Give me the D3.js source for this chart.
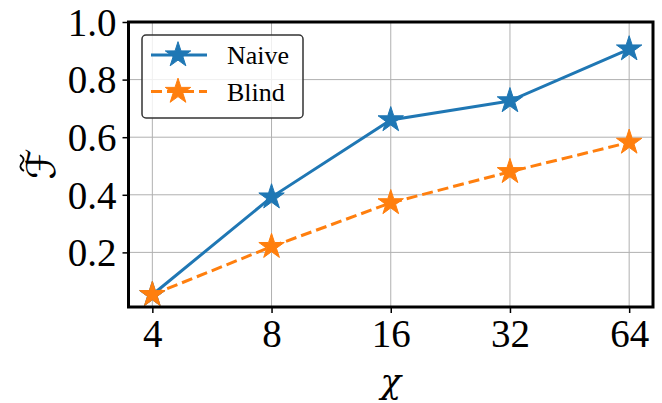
<!DOCTYPE html>
<html>
<head>
<meta charset="utf-8">
<script src="https://cdn.jsdelivr.net/npm/d3@7"></script>
<style>
  body { margin: 0; background: #fff; }
  text { font-family: 'Liberation Serif', 'DejaVu Serif', serif; fill: #000; }
</style>
</head>
<body>
<div id="chart"></div>
<script>
const chis = [4, 8, 16, 32, 64];
const naive = [0.053, 0.392, 0.660, 0.726, 0.906];
const blind = [0.053, 0.220, 0.372, 0.480, 0.582];
const yTicks = [0.2, 0.4, 0.6, 0.8, 1.0];
const seriesNames = ['Naive', 'Blind'];

const W = 662, H = 403;
const margin = { top: 22, right: 9, bottom: 96, left: 128.5 };
const width = W - margin.left - margin.right;
const height = H - margin.top - margin.bottom;

const svg = d3.select('#chart').append('svg')
  .attr('width', W).attr('height', H);

const g = svg.append('g')
  .attr('transform', `translate(${margin.left},${margin.top})`);

// log2 x with 5% padding like matplotlib
const lx0 = Math.log2(4), lx1 = Math.log2(64);
const pad = (lx1 - lx0) * 0.05;
const x = d3.scaleLog().base(2)
  .domain([Math.pow(2, lx0 - pad), Math.pow(2, lx1 + pad)])
  .range([0, width]);

const allVals = naive.concat(blind);
const yMin = d3.min(allVals), yMax = d3.max(allVals);
const y = d3.scaleLinear()
  .domain([yMin - 0.05 * (yMax - yMin), 1.0])
  .range([height, 0]);

// grid
g.append('g').selectAll('line').data(chis).enter().append('line')
  .attr('x1', d => x(d)).attr('x2', d => x(d))
  .attr('y1', 0).attr('y2', height)
  .attr('stroke', '#b0b0b0').attr('stroke-width', 1);
g.append('g').selectAll('line').data(yTicks).enter().append('line')
  .attr('x1', 0).attr('x2', width)
  .attr('y1', d => y(d)).attr('y2', d => y(d))
  .attr('stroke', '#b0b0b0').attr('stroke-width', 1);

// axes
const xAxis = g.append('g')
  .attr('transform', `translate(0,${height})`)
  .call(d3.axisBottom(x).tickValues(chis).tickFormat(d3.format('d')).tickSize(6).tickPadding(6));
const yAxis = g.append('g')
  .call(d3.axisLeft(y).tickValues(yTicks).tickFormat(d3.format('.1f')).tickSize(6).tickPadding(6));

[xAxis, yAxis].forEach(a => {
  a.select('.domain').remove();
  a.selectAll('.tick line').attr('stroke', '#000').attr('stroke-width', 1.5);
  a.selectAll('.tick text')
    .style('font-family', "'Liberation Serif', serif")
    .style('font-size', '39px').attr('fill', '#000');
});
yAxis.selectAll('.tick text').attr('dy', '0.34em');
xAxis.selectAll('.tick text').attr('dy', '0.72em');

const colors = ['#1f77b4', '#ff7f0e'];
const dashes = [null, '11,5'];
const star = d3.symbol(d3.symbolStar, 200);

[naive, blind].forEach((vals, i) => {
  const line = d3.line().x((d, j) => x(chis[j])).y(d => y(d));
  g.append('path').datum(vals)
    .attr('d', line)
    .attr('fill', 'none')
    .attr('stroke', colors[i])
    .attr('stroke-width', 3)
    .attr('stroke-dasharray', dashes[i]);
  g.append('g').selectAll('path').data(vals).enter().append('path')
    .attr('d', star)
    .attr('transform', (d, j) => `translate(${x(chis[j])},${y(d)})`)
    .attr('fill', colors[i]).attr('stroke', colors[i]).attr('stroke-width', 1);
});

// frame
g.append('rect')
  .attr('x', 0).attr('y', 0).attr('width', width).attr('height', height)
  .attr('fill', 'none').attr('stroke', '#000').attr('stroke-width', 3);

// legend
const lg = svg.append('g').attr('transform', 'translate(142,35)');
lg.append('rect')
  .attr('width', 161).attr('height', 83).attr('rx', 4)
  .attr('fill', '#fff').attr('fill-opacity', 0.8)
  .attr('stroke', '#333').attr('stroke-width', 1.5);
seriesNames.forEach((name, i) => {
  const cy = 20 + i * 36.5;
  lg.append('line')
    .attr('x1', 9).attr('x2', 65).attr('y1', cy).attr('y2', cy)
    .attr('stroke', colors[i]).attr('stroke-width', 3)
    .attr('stroke-dasharray', dashes[i]);
  lg.append('path').attr('d', star)
    .attr('transform', `translate(36,${cy})`)
    .attr('fill', colors[i]).attr('stroke', colors[i]).attr('stroke-width', 1);
  lg.append('text')
    .attr('x', 85).attr('y', cy + 9)
    .style('font-size', '26px')
    .text(name);
});

// axis labels
svg.append('text')
  .attr('x', margin.left + x(16)).attr('y', 393)
  .attr('text-anchor', 'middle')
  .style('font-family', "'DejaVu Serif', serif")
  .style('font-size', '34px').style('font-style', 'italic')
  .text('χ');

const yl = svg.append('g').attr('transform', 'translate(55,164) rotate(-90)');
yl.append('text')
  .attr('text-anchor', 'middle')
  .style('font-family', "'DejaVu Sans', serif")
  .style('font-size', '40px')
  .text('ℱ');
// tilde accent
yl.append('path')
  .attr('d', 'M-7,-31 C-4,-36 -1,-35 1,-33 C3,-31 6,-30 9,-35')
  .attr('fill', 'none').attr('stroke', '#000').attr('stroke-width', 1.8);
</script>
</body>
</html>
